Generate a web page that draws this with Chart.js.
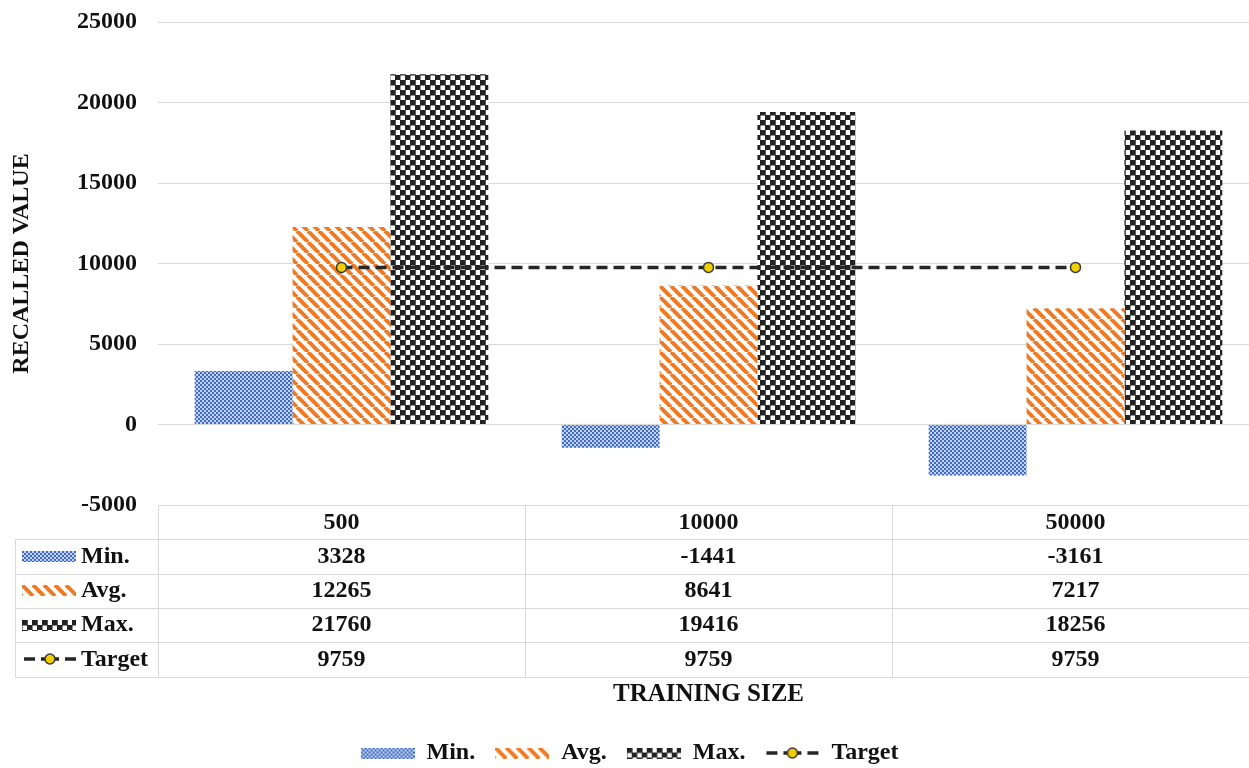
<!DOCTYPE html>
<html>
<head>
<meta charset="utf-8">
<script src="https://cdn.jsdelivr.net/npm/chart.js@4.4.1/dist/chart.umd.min.js"></script>
<style>
  html, body { margin: 0; padding: 0; background: #fff; overflow: hidden; }
  #wrap { position: relative; width: 1259px; height: 768px; }
</style>
</head>
<body>
<div id="wrap"><canvas id="recallChart"></canvas></div>
<script>
// data
const categories = ['500', '10000', '50000'];
const seriesNames = ['Min.', 'Avg.', 'Max.', 'Target'];
const minValues = [3328, -1441, -3161];
const avgValues = [12265, 8641, 7217];
const maxValues = [21760, 19416, 18256];
const targetValues = [9759, 9759, 9759];
const yMin = -5000, yMax = 25000, yStep = 5000;

const FONT = "'Liberation Serif', 'Times New Roman', serif";

// fill patterns
function makeTile(w, h, draw) {
	var c = document.createElement('canvas');
	c.width = w; c.height = h;
	draw(c.getContext('2d'), w, h);
	return c;
}

var blueTile = makeTile(4, 4, function(g) {
	g.fillStyle = '#c3d2f0';
	g.fillRect(0, 0, 4, 4);
	g.fillStyle = '#3f6cc6';
	g.fillRect(0, 0, 2, 2);
	g.fillRect(2, 2, 2, 2);
});

var orangeTile = makeTile(11, 11, function(g, s) {
	g.fillStyle = '#fff';
	g.fillRect(0, 0, s, s);
	g.strokeStyle = '#f07a24';
	g.lineWidth = 4;
	for (var k = -1; k <= 1; k++) {
		g.beginPath();
		g.moveTo(k * s, 0);
		g.lineTo(k * s + s, s);
		g.stroke();
	}
});

var checkTile = makeTile(10, 10, function(g) {
	g.fillStyle = '#fff';
	g.fillRect(0, 0, 10, 10);
	g.fillStyle = '#222';
	g.fillRect(0, 0, 5.5, 5.5);
	g.fillRect(5, 5, 5.5, 5.5);
	g.fillRect(0, 5, 0.5, 5);
	g.fillRect(5, 0, 0.5, 5);
});

var pctx = document.createElement('canvas').getContext('2d');
var bluePattern = pctx.createPattern(blueTile, 'repeat');
var orangePattern = pctx.createPattern(orangeTile, 'repeat');
var checkPattern = pctx.createPattern(checkTile, 'repeat');

// legend / table symbols
function swatch(tile) {
	return makeTile(54, 11, function(g, w, h) {
		g.fillStyle = g.createPattern(tile, 'repeat');
		g.fillRect(0, 0, w, h);
	});
}
var symbols = [
	swatch(blueTile),
	swatch(orangeTile),
	swatch(checkTile),
	makeTile(56, 14, function(g) {
		g.strokeStyle = '#262626';
		g.lineWidth = 3.5;
		g.beginPath(); g.moveTo(2, 7); g.lineTo(13, 7); g.stroke();
		g.beginPath(); g.moveTo(43, 7); g.lineTo(54, 7); g.stroke();
		g.beginPath(); g.moveTo(19, 7); g.lineTo(37, 7); g.stroke();
		g.beginPath();
		g.arc(28, 7, 5, 0, Math.PI * 2);
		g.fillStyle = '#f2cd00';
		g.fill();
		g.lineWidth = 1.5;
		g.strokeStyle = '#3a3a3a';
		g.stroke();
	})
];

var tableRows = [minValues, avgValues, maxValues, targetValues];

// draws the data table under the plot, aligned on the x scale
var dataTablePlugin = {
	id: 'dataTable',
	afterDraw: function(chart) {
		var ctx = chart.ctx;
		var xs = chart.scales.x;
		var area = chart.chartArea;
		var rowH = 34.3;
		var top = area.bottom;
		var half = (xs.getPixelForValue(1) - xs.getPixelForValue(0)) / 2;

		ctx.save();
		ctx.strokeStyle = '#d9d9d9';
		ctx.lineWidth = 1;
		for (var r = 1; r <= 5; r++) {
			var ly = Math.round(top + rowH * r) + 0.5;
			ctx.beginPath();
			ctx.moveTo(15, ly);
			ctx.lineTo(area.right, ly);
			ctx.stroke();
		}
		var bottom = Math.round(top + rowH * 5) + 0.5;
		var vlines = [area.left];
		for (var i = 0; i < categories.length; i++) vlines.push(xs.getPixelForValue(i) + half);
		vlines.forEach(function(vx) {
			ctx.beginPath();
			ctx.moveTo(Math.round(vx) + 0.5, top);
			ctx.lineTo(Math.round(vx) + 0.5, bottom);
			ctx.stroke();
		});
		ctx.beginPath();
		ctx.moveTo(15.5, top + rowH);
		ctx.lineTo(15.5, bottom);
		ctx.stroke();

		ctx.font = 'bold 24px ' + FONT;
		ctx.fillStyle = '#111';
		ctx.textBaseline = 'middle';
		tableRows.forEach(function(vals, r) {
			var cy = top + rowH * (r + 1) + rowH / 2;
			var sym = symbols[r];
			ctx.drawImage(sym, 22, Math.round(cy - sym.height / 2));
			ctx.textAlign = 'left';
			ctx.fillText(seriesNames[r], 81, cy);
			ctx.textAlign = 'center';
			vals.forEach(function(v, i) {
				ctx.fillText(String(v), xs.getPixelForValue(i), cy);
			});
		});
		ctx.restore();
	}
};

var ctx = document.getElementById('recallChart');

var recallChart = new Chart(ctx, {
	type: 'bar',
	data: {
		labels: categories,
		datasets: [
			{ label: seriesNames[0], data: minValues, backgroundColor: bluePattern, order: 1 },
			{ label: seriesNames[1], data: avgValues, backgroundColor: orangePattern, order: 1 },
			{ label: seriesNames[2], data: maxValues, backgroundColor: checkPattern, order: 1 },
			{
				label: seriesNames[3],
				type: 'line',
				data: targetValues,
				order: 0,
				borderColor: '#262626',
				borderWidth: 3.5,
				borderDash: [11, 6],
				pointRadius: 5,
				pointBackgroundColor: '#f2cd00',
				pointBorderColor: '#3a3a3a',
				pointBorderWidth: 1.5,
				fill: false
			}
		]
	},
	options: {
		responsive: true,
		maintainAspectRatio: false,
		animation: false,
		layout: { autoPadding: false, padding: { top: 22, left: 0, right: 0, bottom: -7 } },
		datasets: {
			bar: { categoryPercentage: 0.8, barPercentage: 1.0, borderWidth: 0 }
		},
		scales: {
			x: {
				grid: { display: false, drawTicks: false },
				border: { display: false },
				ticks: { color: '#111', font: { family: FONT, size: 24, weight: 'bold' }, padding: 3 },
				title: {
					display: true,
					text: 'TRAINING SIZE',
					color: '#111',
					font: { family: FONT, size: 25, weight: 'bold' },
					padding: { top: 0, bottom: 11 }
				},
				afterFit: function(scale) { scale.height = 216; }
			},
			y: {
				min: yMin,
				max: yMax,
				grid: { color: '#d9d9d9', drawTicks: false },
				border: { display: false },
				ticks: {
					stepSize: yStep,
					color: '#111',
					padding: 21,
					font: { family: FONT, size: 24, weight: 'bold' },
					callback: function(v) { return String(v); }
				},
				title: {
					display: true,
					text: 'RECALLED VALUE',
					color: '#111',
					font: { family: FONT, size: 24, weight: 'bold' },
					padding: { top: 7, bottom: 0 }
				},
				afterFit: function(scale) {
					scale.width = 158;
					scale.paddingTop = 0;
					scale.paddingBottom = 0;
				}
			}
		},
		plugins: {
			legend: {
				position: 'bottom',
				labels: {
					usePointStyle: true,
					pointStyleWidth: 54,
					padding: 20,
					color: '#111',
					font: { family: FONT, size: 24, weight: 'bold' },
					generateLabels: function(chart) {
						return chart.data.datasets.map(function(ds, i) {
							return {
								text: ds.label,
								datasetIndex: i,
								pointStyle: symbols[i],
								fontColor: '#111',
								lineWidth: 0,
								hidden: false
							};
						});
					}
				}
			},
			tooltip: { enabled: false }
		}
	},
	plugins: [dataTablePlugin]
});
</script>
</body>
</html>
